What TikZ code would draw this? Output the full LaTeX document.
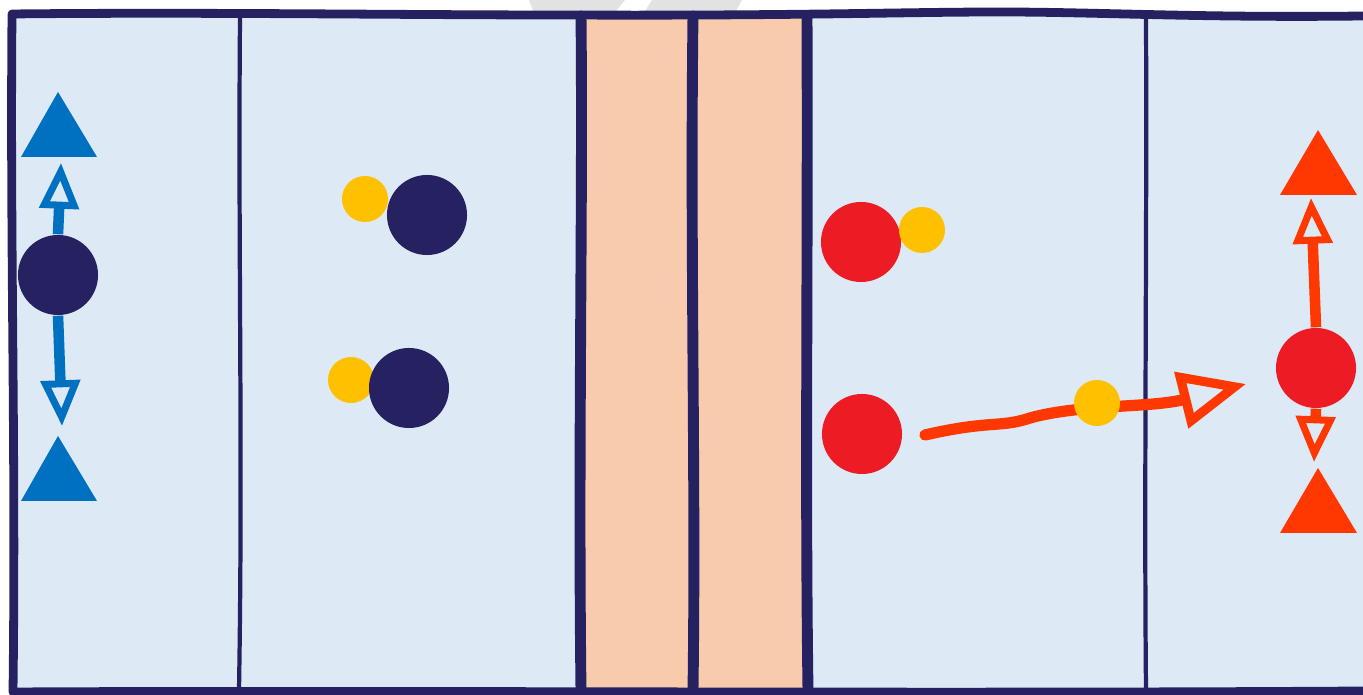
\documentclass[tikz,border=0pt]{standalone}
\usetikzlibrary{arrows.meta}
\definecolor{navy}{HTML}{262262}
\definecolor{paleblue}{HTML}{DDE9F5}
\definecolor{peach}{HTML}{F8CBAD}
\definecolor{bluea}{HTML}{0070C0}
\definecolor{orangea}{HTML}{FF3700}
\definecolor{reda}{HTML}{ED1C24}
\definecolor{yellowa}{HTML}{FFC000}
\definecolor{wm}{HTML}{E2E2E2}
\tikzset{
  bigdot/.style={circle, inner sep=0pt, minimum size=0.8cm},
  smalldot/.style={circle, fill=yellowa, inner sep=0pt, minimum size=0.46cm},
  navydot/.style={bigdot, fill=navy},
  reddot/.style={bigdot, fill=reda},
  frameline/.style={draw=navy, line width=2.5pt, line join=round, line cap=round},
  thinline/.style={draw=navy, line width=1.2pt, line cap=round},
  thickline/.style={draw=navy, line width=3.1pt, line cap=round},
  bluearrow/.style={draw=bluea, line width=3pt, -{Triangle[open, length=13pt, width=11pt, line width=2pt]}},
  orangearrow/.style={draw=orangea, line width=3pt, -{Triangle[open, length=13pt, width=11pt, line width=2pt]}},
  bigorangearrow/.style={draw=orangea, line width=3.2pt, line cap=round, -{Triangle[open, length=19pt, width=16pt, line width=2.6pt]}},
  bluetri/.style={fill=bluea},
  orangetri/.style={fill=orangea}
}
\begin{document}
\begin{tikzpicture}[x=0.01cm, y=-0.01cm]
\useasboundingbox (0,0) rectangle (1363,695);
% faint watermark shapes at the top
\fill[wm] (529,0) -- (625,0) -- (612,16) -- (535,16) -- cycle;
\fill[wm] (652,0) -- (742,0) -- (733,16) -- (642,16) -- cycle;
% backgrounds
\fill[paleblue] (12,14) rectangle (1363,692);
\fill[peach] (581,14) rectangle (807,692);
% dividers
\path[thinline] (240,18) .. controls (238,250) and (243,450) .. (239,690);
\path[thickline] (581,16) .. controls (583,200) and (578,450) .. (581,690);
\path[thickline] (693,16) .. controls (690,250) and (696,480) .. (693,690);
\path[thickline] (807,16) .. controls (808,250) and (805,480) .. (808,690);
\path[thinline] (1146,18) .. controls (1147,250) and (1144,480) .. (1146,690);
% outer frame
\path[frameline] (1363,16) .. controls (1200,18) and (1100,12) .. (1000,12)
  .. controls (900,12) and (800,16) .. (560,15)
  .. controls (400,15) and (200,12) .. (12,14)
  .. controls (10,250) and (16,450) .. (13,692)
  .. controls (400,690) and (900,694) .. (1363,691);
% left panel
\fill[bluetri] (58,92) -- (97,157) -- (21,157) -- cycle;
\fill[bluetri] (58,436) -- (97,501) -- (21,501) -- cycle;
\node[navydot] (L) at (58,275) {};
\coordinate (Lup) at (61,163);
\coordinate (Ldn) at (62,426);
\draw[bluearrow] (L.north) -- (Lup);
\draw[bluearrow] (L.south) -- (Ldn);
% second panel
\node[smalldot] (y1) at (365,199) {};
\node[navydot] (n1) at (427,215) {};
\node[smalldot] (y2) at (351,380) {};
\node[navydot] (n2) at (409,388) {};
% fourth panel
\node[reddot] (r1) at (861,242) {};
\node[smalldot] (y3) at (922,230) {};
\node[reddot] (r2) at (862,434) {};
\coordinate (Astart) at (925,435);
\coordinate (Aend) at (1246,384);
\draw[bigorangearrow] (Astart) .. controls (990,420) and (1000,428) .. (1030,418)
  .. controls (1080,404) and (1150,408) .. (Aend);
\node[smalldot] (y4) at (1097,403) {};
% right panel
\fill[orangetri] (1318,130) -- (1357,195) -- (1280,195) -- cycle;
\fill[orangetri] (1318,468) -- (1357,533) -- (1280,533) -- cycle;
\node[reddot] (R) at (1316,368) {};
\coordinate (Rup) at (1311,198);
\coordinate (Rdn) at (1314,462);
\draw[orangearrow] (R.north) -- (Rup);
\draw[orangearrow] (R.south) -- (Rdn);
\end{tikzpicture}
\end{document}
